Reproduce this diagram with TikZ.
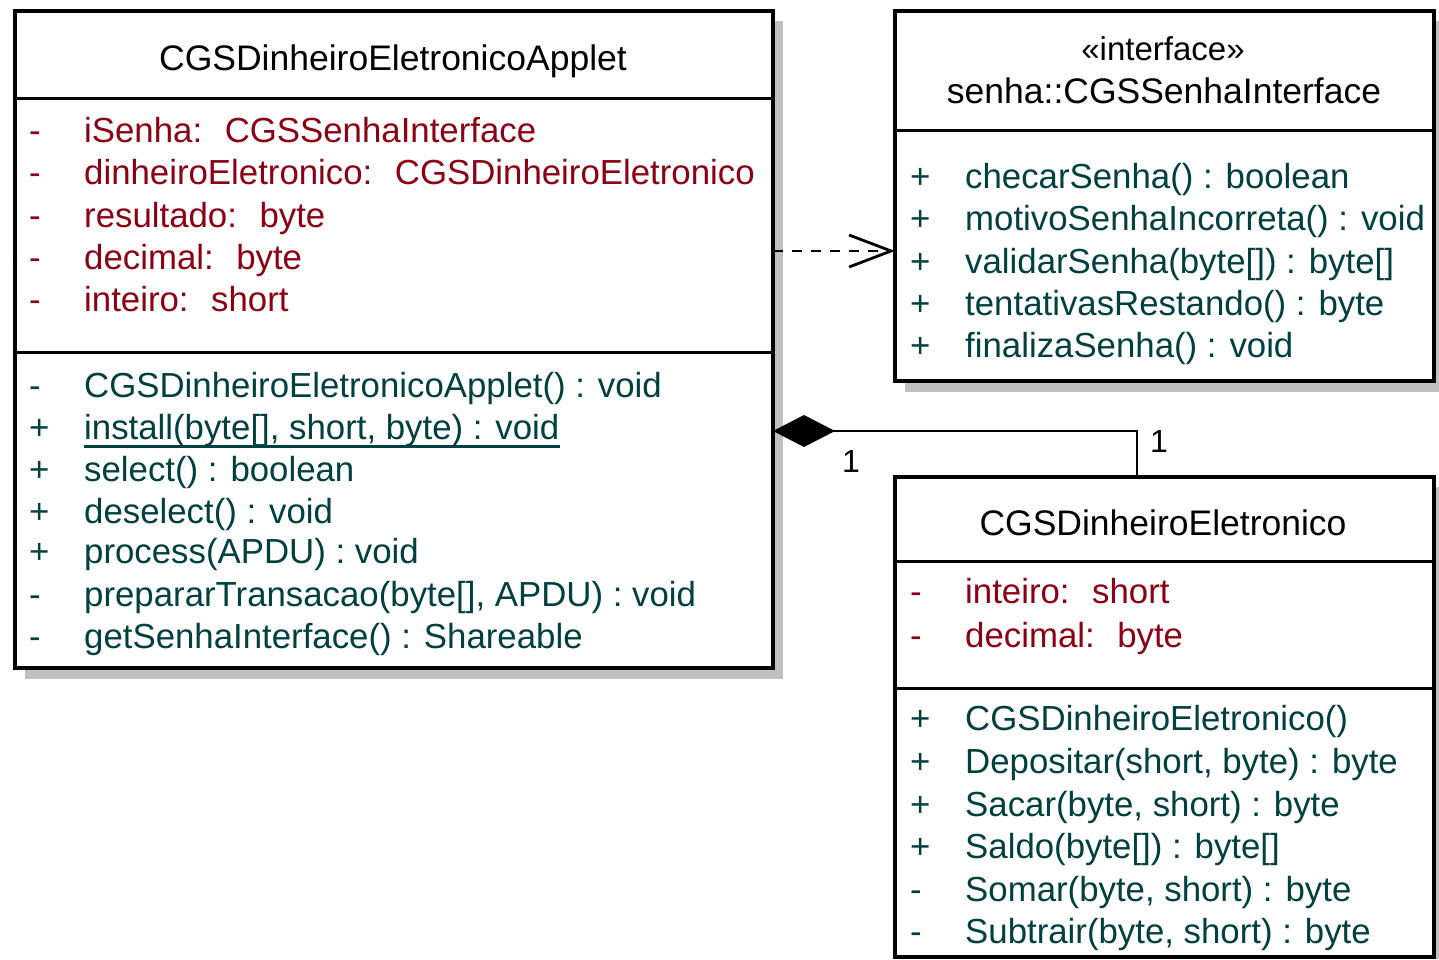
\documentclass[tikz,border=0pt]{standalone}
\usepackage{fontspec}
\setmainfont{Liberation Sans}
\usetikzlibrary{arrows.meta}
\definecolor{attrc}{RGB}{140,0,20}
\definecolor{methc}{RGB}{0,64,64}
\definecolor{shadec}{RGB}{192,192,192}
\begin{document}
\begin{tikzpicture}[x=1pt,y=-1pt,
  classbox/.style={draw=black,line width=3.5pt,fill=white,inner sep=0pt,outer sep=0pt,anchor=north west},
  sepline/.style={draw=black,line width=3pt},
  txt/.style={anchor=base west,inner sep=0pt,font=\fontsize{34.8}{40}\selectfont},
  attr/.style={txt,text=attrc},
  meth/.style={txt,text=methc},
  ttl/.style={anchor=base,inner sep=0pt,font=\fontsize{35.5}{40}\selectfont,text=black},
  conn/.style={line width=2.5pt,black},
  mult/.style={anchor=base west,inner sep=0pt,font=\fontsize{32}{38}\selectfont,text=black}]
\useasboundingbox (0,0) rectangle (1439,959);
\fill[white] (0,0) rectangle (1439,959);
% shadows
\fill[shadec] (25,21) rectangle (783,679);
\fill[shadec] (905,21) rectangle (1439,392);
\fill[shadec] (905,487) rectangle (1439,959);
% class boxes
\node[classbox,minimum width=758pt,minimum height=657pt] (applet) at (15,11) {};
\node[classbox,minimum width=539pt,minimum height=370pt] (iface) at (895,11) {};
\node[classbox,minimum width=539pt,minimum height=480pt] (eletr) at (895,477) {};
% separators
\draw[sepline] (applet.west |- 0,98) -- (applet.east |- 0,98);
\draw[sepline] (applet.west |- 0,352) -- (applet.east |- 0,352);
\draw[sepline] (iface.west |- 0,130) -- (iface.east |- 0,130);
\draw[sepline] (eletr.west |- 0,561) -- (eletr.east |- 0,561);
\draw[sepline] (eletr.west |- 0,688) -- (eletr.east |- 0,688);
% titles
\node[ttl] (t1) at (393,70) {CGSDinheiroEletronicoApplet};
\node[ttl,font=\fontsize{33}{40}\selectfont] (t2a) at (1163,60) {«interface»};
\node[ttl] (t2b) at (1164,103) {senha::CGSSenhaInterface};
\node[ttl] (t3) at (1163,535) {CGSDinheiroEletronico};
% applet attributes
\node[attr] (v1) at (29,142) {-}; \node[attr] (a1) at (84,142) {iSenha:~ CGSSenhaInterface};
\node[attr] (v2) at (29,184) {-}; \node[attr] (a2) at (84,184) {dinheiroEletronico:~ CGSDinheiroEletronico};
\node[attr] (v3) at (29,227) {-}; \node[attr] (a3) at (84,227) {resultado:~ byte};
\node[attr] (v4) at (29,269) {-}; \node[attr] (a4) at (84,269) {decimal:~ byte};
\node[attr] (v5) at (29,311) {-}; \node[attr] (a5) at (84,311) {inteiro:~ short};
% applet methods
\node[meth] (w1) at (29,397) {-}; \node[meth] (m1) at (84,397) {CGSDinheiroEletronicoApplet() : void};
\node[meth] (w2) at (29,439) {+}; \node[meth] (m2) at (84,439) {install(byte[], short, byte) : void};
\draw[methc,line width=3pt] (m2.south west) -- (m2.south east);
\node[meth] (w3) at (29,481) {+}; \node[meth] (m3) at (84,481) {select() : boolean};
\node[meth] (w4) at (29,523) {+}; \node[meth] (m4) at (84,523) {deselect() : void};
\node[meth] (w5) at (29,563) {+}; \node[meth] (m5) at (84,563) {process(APDU) : void};
\node[meth] (w6) at (29,606) {-}; \node[meth] (m6) at (84,606) {prepararTransacao(byte[], APDU) : void};
\node[meth] (w7) at (29,648) {-}; \node[meth] (m7) at (84,648) {getSenhaInterface() : Shareable};
% interface methods
\node[meth] (x1) at (910,188) {+}; \node[meth] (n1) at (965,188) {checarSenha() : boolean};
\node[meth] (x2) at (910,230) {+}; \node[meth] (n2) at (965,230) {motivoSenhaIncorreta() : void};
\node[meth] (x3) at (910,273) {+}; \node[meth] (n3) at (965,273) {validarSenha(byte[]) : byte[]};
\node[meth] (x4) at (910,315) {+}; \node[meth] (n4) at (965,315) {tentativasRestando() : byte};
\node[meth] (x5) at (910,357) {+}; \node[meth] (n5) at (965,357) {finalizaSenha() : void};
% eletronico attributes
\node[attr] (u1) at (910,603) {-}; \node[attr] (b1) at (965,603) {inteiro:~ short};
\node[attr] (u2) at (910,647) {-}; \node[attr] (b2) at (965,647) {decimal:~ byte};
% eletronico methods
\node[meth] (z1) at (910,730) {+}; \node[meth] (p1) at (965,730) {CGSDinheiroEletronico()};
\node[meth] (z2) at (910,773) {+}; \node[meth] (p2) at (965,773) {Depositar(short, byte) : byte};
\node[meth] (z3) at (910,816) {+}; \node[meth] (p3) at (965,816) {Sacar(byte, short) : byte};
\node[meth] (z4) at (910,858) {+}; \node[meth] (p4) at (965,858) {Saldo(byte[]) : byte[]};
\node[meth] (z5) at (910,901) {-}; \node[meth] (p5) at (965,901) {Somar(byte, short) : byte};
\node[meth] (z6) at (910,943) {-}; \node[meth] (p6) at (965,943) {Subtrair(byte, short) : byte};
% connectors
\coordinate (ydep) at (0,251);
\coordinate (ycomp) at (0,431);
\coordinate (xcomp) at (1137,0);
\draw[conn,dash pattern=on 10pt off 9pt,-{Straight Barb[length=42pt,width=32pt,line width=2.8pt]}]
  (applet.east |- ydep) -- (iface.west |- ydep);
\draw[conn,{Diamond[length=62pt,width=32pt]}-] (applet.east |- ycomp) -| (eletr.north -| xcomp);
\node[mult] (mlt1) at (842,472) {1};
\node[mult] (mlt2) at (1150,452) {1};
\end{tikzpicture}
\end{document}
